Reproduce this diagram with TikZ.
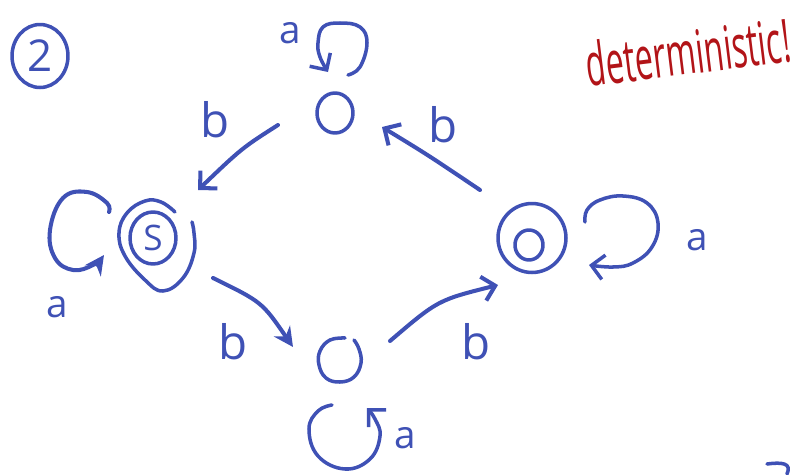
\documentclass[tikz,border=0pt]{standalone}
\usepackage{fontspec}
\setmainfont{Open Sans}
\usepackage{graphicx}
\usetikzlibrary{arrows.meta,shapes.geometric}
\definecolor{ink}{RGB}{63,81,181}
\definecolor{redink}{RGB}{178,20,24}
\tikzset{
  pen/.style={draw=ink, line width=2pt, line cap=round, line join=round},
  state/.style={pen, ellipse, inner sep=0pt},
  edge/.style={pen, line width=2.3pt},
  vhead/.style={-{Straight Barb[length=7pt,width=14pt]}},
  fillhead/.style={-{Stealth[length=11pt,width=11pt]}},
  lbla/.style={text=ink, inner sep=0pt, font=\fontsize{22}{22}\selectfont},
  lblb/.style={text=ink, inner sep=0pt, font=\fontsize{27}{27}\selectfont},
}
\begin{document}
\begin{tikzpicture}[x=0.02cm, y=-0.02cm]
\useasboundingbox (0,0) rectangle (799,474);

% exercise number
\node[state, minimum width=1.12cm, minimum height=1.26cm, text=ink,
      font=\fontsize{25}{25}\selectfont] (num) at (40,56) {2};

% states
\node[state, minimum width=0.72cm, minimum height=0.8cm] (top) at (335,113) {};
\node[state, minimum width=0.92cm, minimum height=1.04cm, text=ink,
      font=\fontsize{20}{20}\selectfont] (s) at (153,238) {S};
\node[circle, inner sep=0pt, minimum size=0.88cm] (bot) at (340,359) {};
\node[state, minimum width=1.36cm, minimum height=1.38cm] (r) at (532,238) {};
\node[state, minimum width=0.56cm, minimum height=0.6cm] (rin) at ([shift={(-3,7)}]r.center) {};

% outer ring of the start state (accepting)
\begin{scope}[shift={(s.center)}]
  \draw[pen] plot[smooth, tension=0.7] coordinates {(22,-26) (8,-36) (-8,-37) (-26,-25) (-34,-5) (-28,18) (-8,42) (10,53) (30,40) (41,15) (41,-5) (39,-16)};
  % a-loop on the start state
  \draw[pen, line width=2.3pt, fillhead] plot[smooth, tension=0.7] coordinates {(-44,-26) (-46,-35) (-66,-46) (-90,-40) (-103,-8) (-98,20) (-80,32) (-60,27) (-49,17)};
\end{scope}

% open ring of the bottom state and its a-loop
\begin{scope}[shift={(bot.center)}]
  \draw[pen] plot[smooth, tension=0.7] coordinates {(5,-21) (-10,-19) (-20,-8) (-21,6) (-14,19) (0,23) (14,18) (21,4) (19,-10) (14,-19)};
  \draw[pen, vhead] plot[smooth, tension=0.7] coordinates {(-8,46) (-22,52) (-31,70) (-22,97) (5,110) (30,100) (40,77) (35,60) (27,49)};
\end{scope}

% a-loop on the top state
\begin{scope}[shift={(top.center)}]
  \draw[pen, vhead] plot[smooth, tension=0.7] coordinates {(13,-38) (25,-46) (32,-70) (25,-86) (5,-90) (-12,-86) (-17,-70) (-15,-56) (-7,-41)};
\end{scope}

% a-loop on the right state
\begin{scope}[shift={(r.center)}]
  \draw[pen, vhead] plot[smooth, tension=0.7] coordinates {(53,-16) (55,-28) (68,-38) (91,-42) (115,-35) (126,-15) (120,9) (101,25) (81,29) (57,27)};
\end{scope}

% b-transitions
\draw[edge, vhead] ([shift={(-57,12)}]top.center) .. controls (242,148) .. ([shift={(45,-48)}]s.center);
\draw[edge, fillhead] ([shift={(60,40)}]s.center) .. controls (262,302) .. ([shift={(-47,-12)}]bot.center);
\draw[edge, vhead] ([shift={(50,-18)}]bot.center) .. controls (438,300) .. ([shift={(-34,47)}]r.center);
\draw[edge, vhead] ([shift={(-52,-48)}]r.center) .. controls (428,155) .. ([shift={(47,14)}]top.center);

% labels
\node[lbla] (la1) at (290,33) {a};
\node[lblb] (lb1) at (215,120) {b};
\node[lbla] (la2) at (57,307) {a};
\node[lblb] (lb2) at (233,342) {b};
\node[lbla] (la3) at (405,438) {a};
\node[lblb] (lb3) at (476,342) {b};
\node[lbla] (la4) at (697,240) {a};
\node[lblb] (lb4) at (443,125) {b};

% remark
\node[text=redink, rotate=7, inner sep=0pt, font=\fontsize{34}{34}\selectfont]
  (det) at (688,52) {\scalebox{0.54}[1]{deterministic!}};

% stray stroke at the lower edge
\draw[pen] (767,464) .. controls (782,462) and (792,463) .. (787,474);
\end{tikzpicture}
\end{document}
